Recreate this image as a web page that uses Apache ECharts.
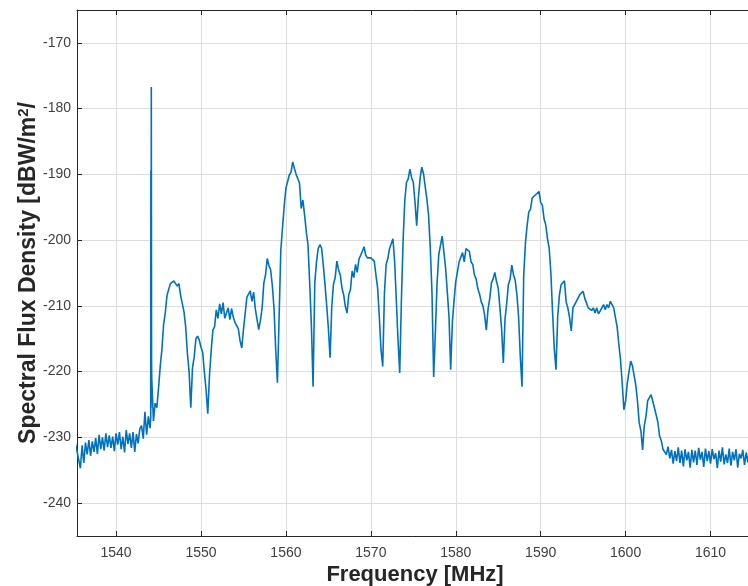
<!DOCTYPE html>
<html>
<head>
<meta charset="utf-8">
<title>Spectral Flux Density</title>
<script src="https://cdn.jsdelivr.net/npm/echarts@6/dist/echarts.min.js"></script>
<style>
  html, body { margin: 0; padding: 0; background: #ffffff; }
  #chart { width: 748px; height: 586px; }
</style>
</head>
<body>
<div id="chart"></div>
<script>
// Measured spectrum, sampled on a 0.2 MHz grid starting at 1535.0 MHz.
const FREQ_START_MHZ = 1535.0;
const FREQ_STEP_MHZ = 0.2;

// Noise floor below the band, 1535.0 – 1543.8 MHz (dBW/m²/Hz)
const floorBelowLevels = [
  -232.0, -230.9, -232.1, -233.4, -234.7,
  -231.2, -233.9, -230.8, -232.6, -230.4,
  -232.8, -230.6, -232.2, -230.1, -232.5,
  -229.6, -231.8, -230.0, -232.0, -229.4,
  -231.5, -229.7, -231.6, -229.9, -232.1,
  -229.4, -231.1, -229.2, -231.8, -229.9,
  -232.3, -228.9, -231.0, -229.4, -231.6,
  -229.2, -232.2, -229.5, -230.9, -228.7,
  -228.2, -230.2, -226.1, -229.6, -226.8
];

// Occupied band, 1544.0 – 1604.8 MHz
const bandLevels = [
  -228.6, -221.0, -227.5, -224.8, -225.5,
  -222.5, -219.2, -216.6, -212.8, -211.0,
  -208.4, -208.3, -206.6, -206.4, -206.2,
  -206.0, -207.0, -206.6, -208.4, -208.4,
  -210.9, -213.2, -217.2, -220.0, -225.5,
  -219.4, -217.8, -215.0, -214.6, -215.2,
  -216.3, -217.1, -220.1, -222.8, -226.4,
  -220.6, -216.8, -213.7, -213.2, -210.6,
  -211.9, -209.7, -211.2, -209.5, -211.9,
  -212.0, -210.3, -212.1, -210.4, -211.7,
  -212.5, -212.3, -213.5, -215.3, -216.4,
  -213.6, -211.2, -208.7, -209.0, -207.7,
  -209.3, -207.9, -210.5, -210.7, -213.6,
  -212.2, -210.3, -206.5, -205.3, -202.8,
  -203.9, -204.5, -206.9, -210.4, -216.7,
  -221.7, -211.7, -201.5, -198.1, -194.8,
  -192.1, -191.9, -190.1, -189.7, -188.1,
  -189.1, -190.0, -190.2, -191.3, -195.2,
  -193.9, -196.2, -198.7, -200.7, -206.5,
  -213.0, -222.3, -206.5, -203.3, -201.3,
  -200.7, -201.2, -203.8, -206.7, -209.9,
  -213.4, -217.9, -210.1, -206.7, -205.7,
  -203.2, -204.5, -205.3, -207.3, -208.3,
  -210.1, -211.1, -208.3, -207.5, -204.7,
  -205.7, -203.7, -204.9, -202.9, -203.1,
  -201.7, -201.0, -202.3, -202.7, -202.7,
  -202.7, -202.5, -203.2, -205.3, -207.3,
  -211.7, -216.7, -219.2, -208.1, -203.7,
  -202.8, -201.3, -201.3, -199.8, -203.2,
  -209.1, -215.2, -220.2, -209.1, -200.0,
  -193.9, -191.2, -190.7, -189.2, -190.5,
  -191.2, -194.2, -197.8, -193.6, -190.6,
  -188.9, -189.9, -190.1, -193.8, -196.2,
  -201.2, -208.0, -220.8, -214.0, -206.5,
  -202.2, -200.8, -199.4, -201.8, -204.2,
  -207.8, -211.5, -219.7, -212.5, -209.2,
  -206.3, -204.8, -203.3, -203.1, -201.9,
  -203.3, -201.3, -201.2, -201.7, -203.3,
  -203.7, -205.3, -205.9, -207.4, -208.2,
  -209.4, -210.0, -211.4, -213.7, -210.5,
  -208.9, -206.5, -205.9, -204.9, -206.3,
  -207.3, -210.3, -213.5, -218.7, -212.0,
  -209.6, -206.7, -205.9, -203.8, -205.3,
  -206.1, -208.3, -211.7, -217.7, -222.3,
  -205.5, -200.5, -197.8, -195.7, -195.3,
  -193.6, -193.9, -193.1, -193.3, -192.6,
  -194.3, -194.7, -196.8, -197.7, -199.8,
  -201.2, -205.0, -211.0, -216.5, -219.7,
  -211.7, -208.4, -206.8, -206.9, -206.2,
  -209.4, -210.3, -211.8, -213.8, -210.3,
  -210.3, -209.3, -209.3, -208.3, -208.6,
  -207.8, -208.9, -208.8, -210.3, -210.3,
  -210.7, -210.3, -211.1, -210.3, -211.2,
  -210.8, -211.1, -209.8, -210.6, -209.8,
  -210.3, -209.3, -209.4, -210.3, -211.8,
  -213.2, -215.8, -218.2, -221.8, -225.8,
  -224.5, -221.7, -220.0, -218.4, -219.1,
  -219.4, -222.1, -224.5, -227.8, -229.0,
  -231.9, -228.2, -226.8, -224.4, -224.3,
  -223.5, -224.5, -224.4, -226.6, -227.7,
  -229.8, -230.5, -231.8, -231.6, -232.6
];

// Noise floor above the band, 1605.0 – 1615.0 MHz
const floorAboveLevels = [
  -231.4, -233.2, -231.9, -234.0, -232.1,
  -233.6, -231.5, -233.9, -232.0, -234.4,
  -231.8, -233.5, -232.2, -234.6, -231.9,
  -233.8, -232.0, -234.2, -231.6, -233.4,
  -232.2, -234.5, -231.7, -233.6, -232.1,
  -234.0, -231.8, -233.3, -232.4, -234.7,
  -232.0, -233.7, -231.5, -234.1, -232.6,
  -233.9, -231.7, -234.3, -232.2, -233.5,
  -231.8, -234.6, -232.5, -233.2, -231.9,
  -234.2, -232.3, -233.8, -231.6, -233.4,
  -232.5
];

// Narrow carrier near 1544.1 MHz, resolved more finely than the grid
const carrierFreqs = [1544.08, 1544.10, 1544.12, 1544.15, 1544.18];
const carrierLevels = [-227.0, -189.4, -225.5, -176.7, -218.0];

// Axis ticks
const freqTicks = [1540, 1550, 1560, 1570, 1580, 1590, 1600, 1610];
const levelTicks = [-240, -230, -220, -210, -200, -190, -180, -170];

const gridLevels = floorBelowLevels.concat(bandLevels, floorAboveLevels);
const spectrum = gridLevels.map((v, i) => [
  Math.round((FREQ_START_MHZ + i * FREQ_STEP_MHZ) * 100) / 100, v
]);
carrierFreqs.forEach((f, i) => spectrum.push([f, carrierLevels[i]]));
spectrum.sort((a, b) => a[0] - b[0]);

const AXIS_COLOR = '#262626';
const LABEL_COLOR = '#404040';
const GRID_COLOR = '#dedede';
const FONT = '"Liberation Sans", Arial, Helvetica, sans-serif';
const plainNumber = v => String(v);

const chart = echarts.init(document.getElementById('chart'), null, { renderer: 'canvas' });

chart.setOption({
  animation: false,
  backgroundColor: '#ffffff',
  grid: { left: 77, top: 10, right: -5, bottom: 50, containLabel: false, outerBoundsMode: 'none' },
  xAxis: [
    {
      type: 'value',
      position: 'bottom',
      min: 1535.4,
      max: 1615,
      name: 'Frequency [MHz]',
      nameLocation: 'middle',
      nameGap: 28,
      nameMoveOverlap: false,
      nameTextStyle: { fontFamily: FONT, fontWeight: 'bold', fontSize: 22, color: '#262626', verticalAlign: 'top' },
      axisLine: { show: true, onZero: false, lineStyle: { color: AXIS_COLOR, width: 1 } },
      axisTick: { show: true, inside: true, length: 5, customValues: freqTicks, lineStyle: { color: AXIS_COLOR } },
      axisLabel: { show: true, customValues: freqTicks, formatter: plainNumber, margin: 10, fontFamily: FONT, fontSize: 14, color: LABEL_COLOR },
      splitLine: { show: true, lineStyle: { color: GRID_COLOR, width: 1 } }
    },
    {
      type: 'value',
      position: 'top',
      min: 1535.4,
      max: 1615,
      axisLine: { show: true, onZero: false, lineStyle: { color: AXIS_COLOR, width: 1 } },
      axisTick: { show: true, inside: true, length: 5, customValues: freqTicks, lineStyle: { color: AXIS_COLOR } },
      axisLabel: { show: false },
      splitLine: { show: false }
    }
  ],
  yAxis: [
    {
      type: 'value',
      position: 'left',
      min: -245,
      max: -165,
      name: 'Spectral Flux Density [dBW/m{sup|2}/',
      nameLocation: 'middle',
      nameGap: 36,
      nameMoveOverlap: false,
      nameTextStyle: {
        fontFamily: FONT, fontWeight: 'bold', fontSize: 23, color: '#262626',
        rich: { sup: { fontFamily: FONT, fontWeight: 'bold', fontSize: 15, color: '#262626', verticalAlign: 'top', padding: [0, 0, 10, 0] } }
      },
      axisLine: { show: true, onZero: false, lineStyle: { color: AXIS_COLOR, width: 1 } },
      axisTick: { show: true, inside: true, length: 5, customValues: levelTicks, lineStyle: { color: AXIS_COLOR } },
      axisLabel: { show: true, customValues: levelTicks, formatter: plainNumber, margin: 6, fontFamily: FONT, fontSize: 14, color: LABEL_COLOR },
      splitLine: { show: true, lineStyle: { color: GRID_COLOR, width: 1 } }
    },
    {
      type: 'value',
      position: 'right',
      min: -245,
      max: -165,
      axisLine: { show: true, onZero: false, lineStyle: { color: AXIS_COLOR, width: 1 } },
      axisTick: { show: true, inside: true, length: 5, customValues: levelTicks, lineStyle: { color: AXIS_COLOR } },
      axisLabel: { show: false },
      splitLine: { show: false }
    }
  ],
  series: [
    {
      type: 'line',
      xAxisIndex: 0,
      yAxisIndex: 0,
      data: spectrum,
      showSymbol: false,
      symbol: 'none',
      sampling: null,
      clip: true,
      lineStyle: { color: '#0072BD', width: 1.6, join: 'bevel' },
      emphasis: { disabled: true }
    }
  ]
});
</script>
</body>
</html>
